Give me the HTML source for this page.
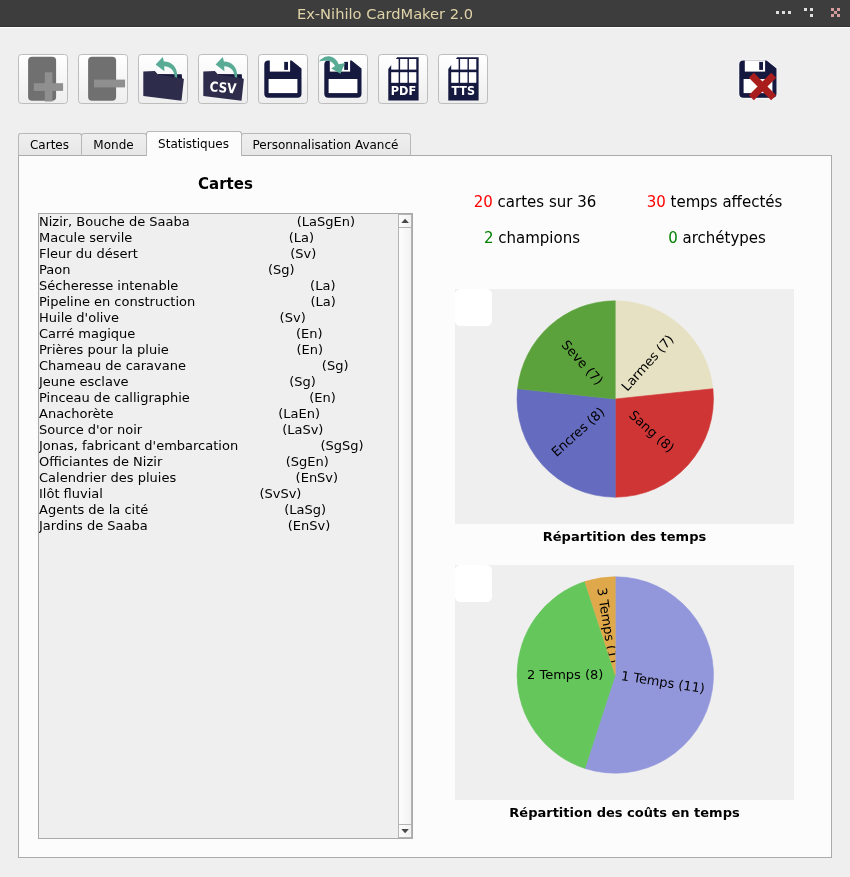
<!DOCTYPE html>
<html lang="fr"><head><meta charset="utf-8"><title>Ex-Nihilo CardMaker 2.0</title>
<style>
html,body{margin:0;padding:0}
body{width:850px;height:877px;background:#efefef;position:relative;overflow:hidden;font-family:"DejaVu Sans","Liberation Sans",sans-serif;color:#000}
.abs{position:absolute}
#title{left:0;top:0;width:850px;height:26px;background:#3d3d3d;border-bottom:1px solid #333}
#title .t{position:absolute;left:0;width:770px;top:0;line-height:27px;text-align:center;font-size:14.67px;color:#e0d3a8}
#wl{left:0;top:27px;width:850px;height:1px;background:#fff}
.dot{position:absolute;width:3px;height:3px;background:#dedede}
.dot.p{background:#d99c9c}
.tb{position:absolute;top:54px;width:48px;height:48px;border:1px solid #bdbdbd;border-radius:3.5px;background:linear-gradient(#fff,#eee)}
.tab{position:absolute;box-sizing:border-box;border:1px solid #b8b8b8;border-bottom:none;border-radius:3px 3px 0 0;background:linear-gradient(#efefef,#e7e7e7);font-size:12px;text-align:center;padding-right:1px}
#pane{left:18px;top:155px;width:812px;height:701px;border:1px solid #ababab;background:#fcfcfc}
#list{left:38px;top:213px;width:373px;height:624px;border:1px solid #a9a9a9;background:#efefef;overflow:hidden}
.li{position:absolute;left:0;height:16px;line-height:16px;font-size:13px;white-space:pre;width:359px;word-spacing:-0.015px}
.li .cd{position:absolute;top:0}
#sb{left:398px;top:214px;width:12px;height:622px;border:1px solid #b4b4b4;background:linear-gradient(90deg,#fdfdfd,#f2f2f2)}
.stat{position:absolute;font-size:15px;line-height:20px;white-space:pre;transform:translateX(-50%)}
.r{color:#ff0000} .g{color:#008000}
.chart{position:absolute;left:455px;width:339px;height:235px;background:#efefef}
.chart text{font-family:"DejaVu Sans","Liberation Sans",sans-serif;font-size:13px;fill:#000}
.ct{position:absolute;left:455px;width:339px;text-align:center;font-weight:bold;font-size:13px;line-height:16px}
</style></head><body>
<div id="title" class="abs"><div class="t">Ex-Nihilo CardMaker 2.0</div>
<i class="dot" style="left:776px;top:11px"></i><i class="dot" style="left:782px;top:11px"></i><i class="dot" style="left:788px;top:11px"></i>
<i class="dot" style="left:804px;top:8px"></i><i class="dot" style="left:810px;top:8px"></i><i class="dot" style="left:810px;top:14px"></i>
<i class="dot p" style="left:831px;top:8px"></i><i class="dot p" style="left:837px;top:8px"></i><i class="dot p" style="left:834px;top:11px"></i><i class="dot p" style="left:831px;top:14px"></i><i class="dot p" style="left:837px;top:14px"></i>
</div>
<div id="wl" class="abs"></div>
<div class="tb" style="left:18px"><svg width="50" height="50" viewBox="0 0 50 50" style="position:absolute;left:-1px;top:-1px"><rect x="10.1" y="2.8" width="28" height="44" rx="4" fill="#707070"/><rect x="15.8" y="29.2" width="29.3" height="7.7" fill="#8f8f8f"/><rect x="26.8" y="18.3" width="7.6" height="29.2" fill="#8f8f8f"/></svg></div><div class="tb" style="left:78px"><svg width="50" height="50" viewBox="0 0 50 50" style="position:absolute;left:-1px;top:-1px"><rect x="10.1" y="2.8" width="28" height="44" rx="4" fill="#707070"/><rect x="16" y="25.6" width="31.1" height="7.8" fill="#8f8f8f"/></svg></div><div class="tb" style="left:138px"><svg width="50" height="50" viewBox="0 0 50 50" style="position:absolute;left:-1px;top:-1px"><path d="M20,20 L43.8,20.3 L44.1,26 L20,24 Z" fill="#17163b"/>
<path d="M5.3,17.4 L16.8,17.1 L20,20.6 L44.2,24.3 L45.9,25 L43.5,46.8 L5.3,42.1 Z" fill="#2d2c4a"/>
<path d="M17.6,10.6 L24.8,2.9 L25.9,7.4 C33,7.2 40,12.5 39.2,23.7 L36.7,23 C36.6,16.5 32,12.3 26.2,12.2 L26.4,17.3 Z" fill="#5aab96"/></svg></div><div class="tb" style="left:198px"><svg width="50" height="50" viewBox="0 0 50 50" style="position:absolute;left:-1px;top:-1px"><path d="M20,20 L43.8,20.3 L44.1,26 L20,24 Z" fill="#17163b"/>
<path d="M5.3,17.4 L16.8,17.1 L20,20.6 L44.2,24.3 L45.9,25 L43.5,46.8 L5.3,42.1 Z" fill="#2d2c4a"/>
<path d="M17.6,10.6 L24.8,2.9 L25.9,7.4 C33,7.2 40,12.5 39.2,23.7 L36.7,23 C36.6,16.5 32,12.3 26.2,12.2 L26.4,17.3 Z" fill="#5aab96"/><text x="11.2" y="37.3" font-family="DejaVu Sans, Liberation Sans, sans-serif" font-weight="bold" font-size="13.7" fill="#fff" textLength="26.9" lengthAdjust="spacingAndGlyphs" transform="rotate(4.5 11.2 37.3)">CSV</text></svg></div><div class="tb" style="left:258px"><svg width="50" height="50" viewBox="0 0 50 50" style="position:absolute;left:-1px;top:-1px"><path d="M10.4,6.5 H33.6 L43.5,14.6 V39.7 a4.1,4.1 0 0 1 -4.1,4.1 H10.4 a4.1,4.1 0 0 1 -4.1,-4.1 V10.6 a4.1,4.1 0 0 1 4.1,-4.1 Z" fill="#15183f"/>
<rect x="11.8" y="5.8" width="20.3" height="11.8" fill="#fff"/>
<rect x="26.2" y="7.9" width="3.8" height="8" fill="#15183f"/>
<rect x="10.6" y="25" width="28.8" height="14.1" fill="#fff"/></svg></div><div class="tb" style="left:318px"><svg width="50" height="50" viewBox="0 0 50 50" style="position:absolute;left:-1px;top:-1px"><path d="M10.4,6.5 H33.6 L43.5,14.6 V39.7 a4.1,4.1 0 0 1 -4.1,4.1 H10.4 a4.1,4.1 0 0 1 -4.1,-4.1 V10.6 a4.1,4.1 0 0 1 4.1,-4.1 Z" fill="#15183f"/>
<rect x="11.8" y="5.8" width="20.3" height="11.8" fill="#fff"/>
<rect x="26.2" y="7.9" width="3.8" height="8" fill="#15183f"/>
<rect x="10.6" y="25" width="28.8" height="14.1" fill="#fff"/><path d="M0.9,7.4 C2.5,5.5 5.9,2.2 10.5,2.2 C15.5,2.2 19.3,6 20.6,10.3 L27.1,9.1 L22.4,19.7 L13.2,14.4 L17.1,12.1 C15.5,9.3 13,6.9 10,6.8 C6,6.5 3,7 0.9,7.4 Z" fill="#5aab96"/></svg></div><div class="tb" style="left:378px"><svg width="50" height="50" viewBox="0 0 50 50" style="position:absolute;left:-1px;top:-1px"><path d="M19.2,3.2 H40.6 V46.5 H10.3 V15.1 Z" fill="#15183f"/><rect x="13.2" y="5" width="7.4" height="10.6" fill="#fff"/><rect x="13.2" y="18.2" width="7.4" height="10.6" fill="#fff"/><rect x="22.1" y="5" width="7.4" height="10.6" fill="#fff"/><rect x="22.1" y="18.2" width="7.4" height="10.6" fill="#fff"/><rect x="30.9" y="5" width="7.4" height="10.6" fill="#fff"/><rect x="30.9" y="18.2" width="7.4" height="10.6" fill="#fff"/>
<text x="12.8" y="40.9" font-family="DejaVu Sans, Liberation Sans, sans-serif" font-weight="bold" font-size="12.1" fill="#fff" textLength="25.4" lengthAdjust="spacingAndGlyphs">PDF</text></svg></div><div class="tb" style="left:438px"><svg width="50" height="50" viewBox="0 0 50 50" style="position:absolute;left:-1px;top:-1px"><path d="M19.2,3.2 H40.6 V46.5 H10.3 V15.1 Z" fill="#15183f"/><rect x="13.2" y="5" width="7.4" height="10.6" fill="#fff"/><rect x="13.2" y="18.2" width="7.4" height="10.6" fill="#fff"/><rect x="22.1" y="5" width="7.4" height="10.6" fill="#fff"/><rect x="22.1" y="18.2" width="7.4" height="10.6" fill="#fff"/><rect x="30.9" y="5" width="7.4" height="10.6" fill="#fff"/><rect x="30.9" y="18.2" width="7.4" height="10.6" fill="#fff"/>
<text x="13.5" y="40.9" font-family="DejaVu Sans, Liberation Sans, sans-serif" font-weight="bold" font-size="12.1" fill="#fff" textLength="23.5" lengthAdjust="spacingAndGlyphs">TTS</text></svg></div>
<svg class="abs" style="left:733px;top:54px" width="50" height="50" viewBox="0 0 50 50">
<g stroke="#fff" stroke-width="1.2" stroke-linejoin="round"><path d="M10.4,6.5 H33.6 L43.5,14.6 V39.7 a4.1,4.1 0 0 1 -4.1,4.1 H10.4 a4.1,4.1 0 0 1 -4.1,-4.1 V10.6 a4.1,4.1 0 0 1 4.1,-4.1 Z" fill="#15183f"/>
<rect x="11.8" y="6.4" width="20.3" height="11.2" fill="#fff"/>
<rect x="26.2" y="7.9" width="3.8" height="8" fill="#15183f"/>
<rect x="10.6" y="25" width="28.8" height="14.1" fill="#fff"/></g><path d="M10.4,6.5 H33.6 L43.5,14.6 V39.7 a4.1,4.1 0 0 1 -4.1,4.1 H10.4 a4.1,4.1 0 0 1 -4.1,-4.1 V10.6 a4.1,4.1 0 0 1 4.1,-4.1 Z" fill="#15183f"/>
<rect x="11.8" y="6.4" width="20.3" height="11.2" fill="#fff"/>
<rect x="26.2" y="7.9" width="3.8" height="8" fill="#15183f"/>
<rect x="10.6" y="25" width="28.8" height="14.1" fill="#fff"/>
<path d="M18.35,21.35 L40.65,43.65 M40.65,21.35 L18.35,43.65" stroke="#aa1d1d" stroke-width="7.1" fill="none"/>
</svg>
<div id="pane" class="abs"></div>
<div class="tab" style="left:18px;top:133px;width:64px;height:23px;line-height:22px;border-bottom:1px solid #ababab">Cartes</div>
<div class="tab" style="left:81px;top:133px;width:66px;height:23px;line-height:22px;border-bottom:1px solid #ababab">Monde</div>
<div class="tab" style="left:241px;top:133px;width:170px;height:23px;line-height:22px;border-bottom:1px solid #ababab">Personnalisation Avancé</div>
<div class="tab" style="left:146px;top:131px;width:96px;height:25px;line-height:24px;background:#fcfcfc">Statistiques</div>
<div class="abs" style="left:38.5px;top:174px;width:374px;text-align:center;font-weight:bold;font-size:15px;line-height:20px">Cartes</div>
<div id="list" class="abs"><div class="abs" style="left:0;top:0">
<div class="li" style="top:0px">Nizir, Bouche de Saaba                          (LaSgEn)</div>
<div class="li" style="top:16px">Macule servile                                      (La)</div>
<div class="li" style="top:32px">Fleur du désert                                     (Sv)</div>
<div class="li" style="top:48px">Paon                                                (Sg)</div>
<div class="li" style="top:64px">Sécheresse intenable                                (La)</div>
<div class="li" style="top:80px">Pipeline en construction                            (La)</div>
<div class="li" style="top:96px">Huile d'olive                                       (Sv)</div>
<div class="li" style="top:112px">Carré magique                                       (En)</div>
<div class="li" style="top:128px">Prières pour la pluie                               (En)</div>
<div class="li" style="top:144px">Chameau de caravane                                 (Sg)</div>
<div class="li" style="top:160px">Jeune esclave                                       (Sg)</div>
<div class="li" style="top:176px">Pinceau de calligraphie                             (En)</div>
<div class="li" style="top:192px">Anachorète                                        (LaEn)</div>
<div class="li" style="top:208px">Source d'or noir                                  (LaSv)</div>
<div class="li" style="top:224px">Jonas, fabricant d'embarcation                    (SgSg)</div>
<div class="li" style="top:240px">Officiantes de Nizir                              (SgEn)</div>
<div class="li" style="top:256px">Calendrier des pluies                             (EnSv)</div>
<div class="li" style="top:272px">Ilôt fluvial                                      (SvSv)</div>
<div class="li" style="top:288px">Agents de la cité                                 (LaSg)</div>
<div class="li" style="top:304px">Jardins de Saaba                                  (EnSv)</div>
</div></div>
<div id="sb" class="abs">
<div class="abs" style="left:0;top:12px;width:12px;height:1px;background:#b4b4b4"></div>
<div class="abs" style="left:0;top:609px;width:12px;height:1px;background:#b4b4b4"></div>
<svg class="abs" style="left:0;top:0" width="12" height="622"><path d="M2.3,8 L6.1,3.8 L9.9,8 Z" fill="#484848"/><path d="M2.3,614 L6.1,618.2 L9.9,614 Z" fill="#484848"/></svg>
</div>
<div class="stat" style="left:535px;top:192px"><span class="r">20</span> cartes sur 36</div>
<div class="stat" style="left:714.5px;top:192px"><span class="r">30</span> temps affectés</div>
<div class="stat" style="left:532px;top:228px"><span class="g">2</span> champions</div>
<div class="stat" style="left:717px;top:228px"><span class="g">0</span> archétypes</div>
<div class="chart" style="top:289px"><svg width="339" height="235" viewBox="0 0 339 235"><rect x="0" y="0" width="37" height="37" rx="5.5" fill="#fff"/><defs><clipPath id="p1c0"><path d="M160.25,110.00 L160.25,11.80 A98.2,98.2 0 0 1 257.91,99.74 Z"/></clipPath><clipPath id="p1c1"><path d="M160.25,110.00 L257.91,99.74 A98.2,98.2 0 0 1 160.25,208.20 Z"/></clipPath><clipPath id="p1c2"><path d="M160.25,110.00 L160.25,208.20 A98.2,98.2 0 0 1 62.59,99.74 Z"/></clipPath><clipPath id="p1c3"><path d="M160.25,110.00 L62.59,99.74 A98.2,98.2 0 0 1 160.25,11.80 Z"/></clipPath></defs><path d="M160.25,110.00 L160.25,11.80 A98.2,98.2 0 0 1 257.91,99.74 Z" fill="#e6e1c2" stroke="#e6e1c2" stroke-width="0.6"/><path d="M160.25,110.00 L257.91,99.74 A98.2,98.2 0 0 1 160.25,208.20 Z" fill="#d03536" stroke="#d03536" stroke-width="0.6"/><path d="M160.25,110.00 L160.25,208.20 A98.2,98.2 0 0 1 62.59,99.74 Z" fill="#656bbf" stroke="#656bbf" stroke-width="0.6"/><path d="M160.25,110.00 L62.59,99.74 A98.2,98.2 0 0 1 160.25,11.80 Z" fill="#5ca23c" stroke="#5ca23c" stroke-width="0.6"/><g clip-path="url(#p1c0)"><text x="192.50" y="73.81" text-anchor="middle" dominant-baseline="central" transform="rotate(-48.00 192.50 73.81)">Larmes (7)</text></g><g clip-path="url(#p1c1)"><text x="196.84" y="142.45" text-anchor="middle" dominant-baseline="central" transform="rotate(42.00 196.84 142.45)">Sang (8)</text></g><g clip-path="url(#p1c2)"><text x="122.96" y="142.95" text-anchor="middle" dominant-baseline="central" transform="rotate(-42.00 122.96 142.95)">Encres (8)</text></g><g clip-path="url(#p1c3)"><text x="127.40" y="73.61" text-anchor="middle" dominant-baseline="central" transform="rotate(48.00 127.40 73.61)">Seve (7)</text></g></svg></div>
<div class="ct" style="top:529px">Répartition des temps</div>
<div class="chart" style="top:565px"><svg width="339" height="235" viewBox="0 0 339 235"><rect x="0" y="0" width="37" height="37" rx="5.5" fill="#fff"/><defs><clipPath id="p2c0"><path d="M160.25,110.00 L160.25,11.80 A98.2,98.2 0 1 1 129.90,203.39 Z"/></clipPath><clipPath id="p2c1"><path d="M160.25,110.00 L129.90,203.39 A98.2,98.2 0 0 1 129.90,16.61 Z"/></clipPath><clipPath id="p2c2"><path d="M160.25,110.00 L129.90,16.61 A98.2,98.2 0 0 1 160.25,11.80 Z"/></clipPath></defs><path d="M160.25,110.00 L160.25,11.80 A98.2,98.2 0 1 1 129.90,203.39 Z" fill="#9297db" stroke="#9297db" stroke-width="0.6"/><path d="M160.25,110.00 L129.90,203.39 A98.2,98.2 0 0 1 129.90,16.61 Z" fill="#65c65c" stroke="#65c65c" stroke-width="0.6"/><path d="M160.25,110.00 L129.90,16.61 A98.2,98.2 0 0 1 160.25,11.80 Z" fill="#dfa94b" stroke="#dfa94b" stroke-width="0.6"/><g clip-path="url(#p2c0)"><text x="208.05" y="117.08" text-anchor="middle" dominant-baseline="central" transform="rotate(9.00 208.05 117.08)">1 Temps (11)</text></g><g clip-path="url(#p2c1)"><text x="110.25" y="109.45" text-anchor="middle" dominant-baseline="central" transform="rotate(0.00 110.25 109.45)">2 Temps (8)</text></g><g clip-path="url(#p2c2)"><text x="152.57" y="60.50" text-anchor="middle" dominant-baseline="central" transform="rotate(81.00 152.57 60.50)">3 Temps (1)</text></g></svg></div>
<div class="ct" style="top:805px">Répartition des coûts en temps</div>
</body></html>
